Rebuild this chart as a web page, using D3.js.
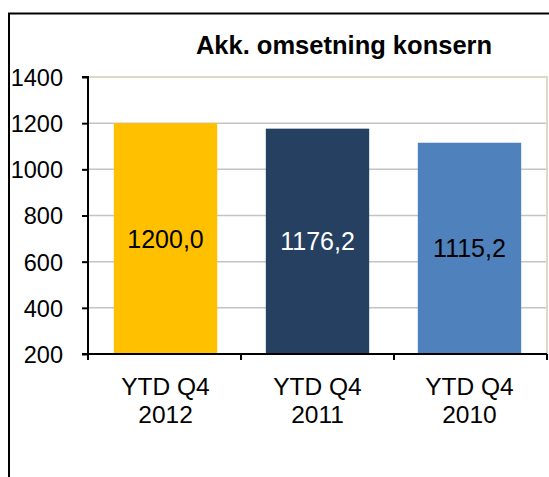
<!DOCTYPE html>
<html>
<head>
<meta charset="utf-8">
<script src="https://cdn.jsdelivr.net/npm/d3@7"></script>
<style>
  body { margin: 0; background: #fff; }
  svg { display: block; font-family: Arial, "Liberation Sans", sans-serif; }
</style>
</head>
<body>
<svg width="549" height="477"></svg>
<script>
'use strict';

const categories = [["YTD Q4", "2012"], ["YTD Q4", "2011"], ["YTD Q4", "2010"]];
const values = [1200.0, 1176.2, 1115.2];
const labels = ["1200,0", "1176,2", "1115,2"];
const barColors = ["#FFC000", "#254061", "#4F81BD"];
const labelColors = ["#000", "#fff", "#000"];
const yTicks = [200, 400, 600, 800, 1000, 1200, 1400];
const title = "Akk. omsetning konsern";

const svg = d3.select("svg");
const margin = {left: 88, right: 2, top: 77, bottom: 123};
const width = 549;
const height = 477;

// outer frame (cropped on the right and bottom)
svg.append("path")
  .attr("d", "M9,477V13.5H549")
  .attr("fill", "none")
  .attr("stroke", "#000")
  .attr("stroke-width", 2);

const x = d3.scaleBand()
  .domain(d3.range(categories.length))
  .range([margin.left, width - margin.right])
  .paddingInner(0.32)
  .paddingOuter(0.17);

const y = d3.scaleLinear()
  .domain([200, 1400])
  .range([height - margin.bottom, margin.top]);

// gridlines
svg.append("g")
  .selectAll("line")
  .data(yTicks.slice(1, -1))
  .join("line")
  .attr("x1", margin.left)
  .attr("x2", width - margin.right)
  .attr("y1", d => y(d))
  .attr("y2", d => y(d))
  .attr("stroke", "#c4c4c4")
  .attr("stroke-width", 1.5);

// plot area border top / right
svg.append("path")
  .attr("d", `M${margin.left},${y(1400)}H${width - margin.right}V${y(200)}`)
  .attr("fill", "none")
  .attr("stroke", "#ddd9c3")
  .attr("stroke-width", 2);

// bars
svg.append("g")
  .selectAll("rect")
  .data(values)
  .join("rect")
  .attr("x", (d, i) => x(i))
  .attr("width", x.bandwidth())
  .attr("y", d => y(d))
  .attr("height", d => y(200) - y(d))
  .attr("fill", (d, i) => barColors[i]);

// value labels
svg.append("g")
  .selectAll("text")
  .data(values)
  .join("text")
  .attr("x", (d, i) => x(i) + x.bandwidth() / 2)
  .attr("y", d => (y(d) + y(200)) / 2 + 9)
  .attr("text-anchor", "middle")
  .attr("font-size", 25)
  .attr("fill", (d, i) => labelColors[i])
  .text((d, i) => labels[i]);

// y axis
const yAxis = svg.append("g")
  .attr("transform", `translate(${margin.left},0)`)
  .call(d3.axisLeft(y).tickValues(yTicks).tickFormat(d3.format("d")).tickSize(6).tickPadding(19));
yAxis.select(".domain").attr("stroke-width", 2).attr("d", `M-6,${y(1400)}H0V${y(200)}`);
yAxis.selectAll(".tick line").attr("stroke-width", 2);
yAxis.selectAll(".tick text")
  .attr("font-size", 23.5)
  .attr("fill", "#000")
  .attr("dy", "0.36em");

// x axis
const xEdges = d3.range(categories.length + 1).map(i => margin.left + i * (width - margin.right - margin.left) / categories.length);
const xAxis = svg.append("g");
xAxis.append("line")
  .attr("x1", margin.left - 6)
  .attr("x2", width - margin.right)
  .attr("y1", y(200))
  .attr("y2", y(200))
  .attr("stroke", "#000")
  .attr("stroke-width", 2);
xAxis.selectAll(".xtick")
  .data(xEdges)
  .join("line")
  .attr("x1", d => d)
  .attr("x2", d => d)
  .attr("y1", y(200))
  .attr("y2", y(200) + 6)
  .attr("stroke", "#000")
  .attr("stroke-width", 2);

const catText = xAxis.selectAll(".cat")
  .data(categories)
  .join("text")
  .attr("text-anchor", "middle")
  .attr("font-size", 24.5)
  .attr("fill", "#000");
catText.selectAll("tspan")
  .data((d, i) => d.map(t => ({t, i})))
  .join("tspan")
  .attr("x", d => x(d.i) + x.bandwidth() / 2)
  .attr("y", (d, j) => 395 + j * 28)
  .text(d => d.t);

// title
svg.append("text")
  .attr("x", 344)
  .attr("y", 54)
  .attr("text-anchor", "middle")
  .attr("font-size", 25.5)
  .attr("font-weight", "bold")
  .text(title);
</script>
</body>
</html>
